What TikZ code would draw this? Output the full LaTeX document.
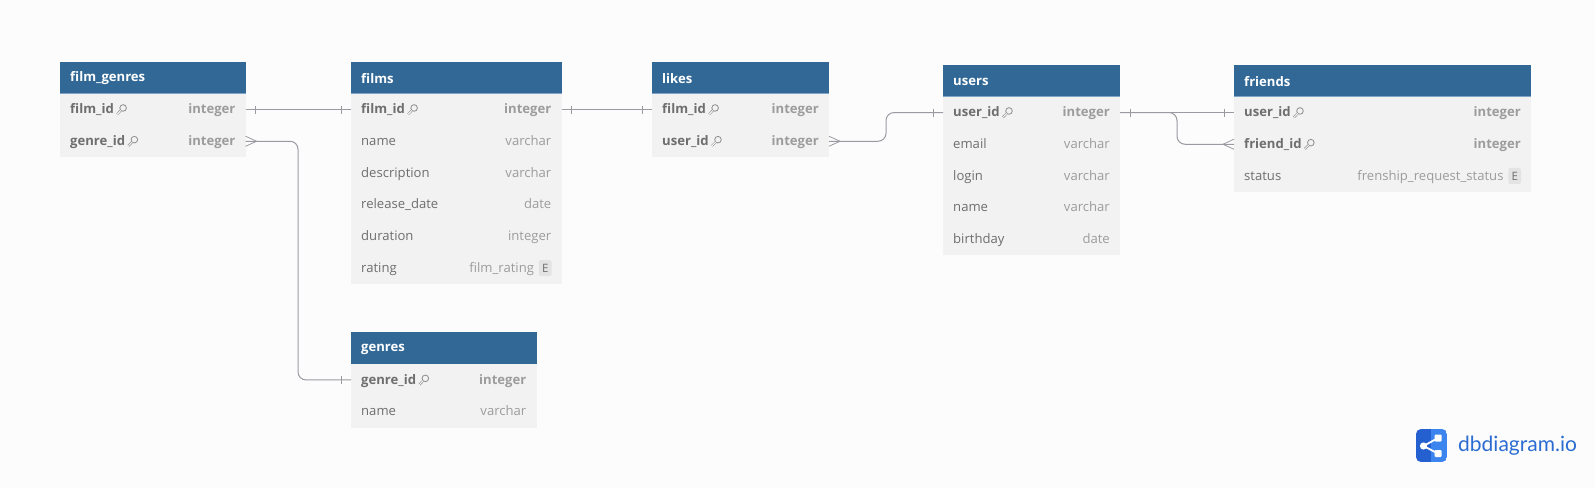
\documentclass[tikz,border=0pt]{standalone}
\usepackage{fontspec}
\setmainfont{Open Sans}
\newfontfamily\logofont{Lato}
\usetikzlibrary{decorations.markings}

\definecolor{pagebg}{HTML}{FCFCFC}
\definecolor{headblue}{HTML}{316896}
\definecolor{headline}{HTML}{7FA3C4}
\definecolor{rowgray}{HTML}{F2F2F2}
\definecolor{namegray}{HTML}{6E6E6E}
\definecolor{typegray}{HTML}{9C9C9C}
\definecolor{linegray}{HTML}{9A9AA2}
\definecolor{logodark}{HTML}{2460CF}
\definecolor{logolight}{HTML}{3C85EE}
\definecolor{logotext}{HTML}{2C6CD2}

\tikzset{
  headbox/.style={draw=none, fill=headblue, anchor=north west, minimum height=31.7pt, inner sep=0pt, outer sep=0pt},
  rowbox/.style={draw=none, fill=rowgray, anchor=north west, minimum height=31.7pt, inner sep=0pt, outer sep=0pt},
  headtext/.style={anchor=west, text=white, inner sep=0pt, font=\fontsize{13.1}{15}\selectfont\bfseries},
  nametext/.style={anchor=west, text=namegray, inner sep=0pt, text height=10pt, text depth=3pt, font=\fontsize{13.1}{15}\selectfont},
  typetext/.style={anchor=east, text=typegray, inner sep=0pt, text height=10pt, text depth=3pt, font=\fontsize{13.1}{15}\selectfont},
  keyname/.style={nametext, font=\fontsize{13.1}{15}\selectfont\bfseries},
  keytype/.style={typetext, font=\fontsize{13.1}{15}\selectfont\bfseries},
  enumbox/.style={anchor=east, fill=black!11, text=namegray, rounded corners=1.5pt, minimum width=12.6pt, minimum height=16pt, inner sep=0pt, font=\fontsize{11.5}{13}\selectfont},
  markline/.style={linegray, line width=0.8pt, sharp corners},
  conn/.style={draw=linegray, line width=1pt, rounded corners=8pt, postaction={decorate}},
  oneboth/.style={decoration={markings,
    mark=at position 10pt with {\draw[markline] (0,-4) -- (0,4);},
    mark=at position -10pt with {\draw[markline] (0,-4) -- (0,4);}}},
  manystartoneend/.style={decoration={markings,
    mark=at position 0pt with {\draw[markline] (0,-5) -- (11,0) -- (0,5);},
    mark=at position -10pt with {\draw[markline] (0,-4) -- (0,4);}}},
  onestartmanyend/.style={decoration={markings,
    mark=at position 10pt with {\draw[markline] (0,-4) -- (0,4);},
    mark=at position -0.1pt with {\draw[markline] (0,-5) -- (-11,0) -- (0,5);}}},
  keyicon/.pic={
    \draw[typegray!90!black, line width=0.8pt] (2.1,-1.7) circle (3.3);
    \draw[typegray!90!black, line width=0.6pt, double=pagebg, double distance=1pt] (-0.1,0.7) -- (-3.9,4.6);
  },
}

% table head: id, left, top, width, title
\newcommand{\dbhead}[5]{
  \node[headbox, minimum width=#4pt] (#1) at (#2,#3) {};
  \draw[headline, line width=1pt] (#1.south west) -- (#1.south east);
  \node[headtext] (#1title) at ([xshift=10pt,yshift=-0.7pt]#1.west) {#5};
}
% key row: id, above, width, name, type
\newcommand{\dbkeyrow}[5]{
  \node[rowbox, minimum width=#3pt] (#1) at (#2.south west) {};
  \node[keyname] (#1name) at ([xshift=10pt,yshift=-0.6pt]#1.west) {#4};
  \pic (#1key) at ([xshift=7pt,yshift=0.5pt]#1name.east) {keyicon};
  \node[keytype] (#1type) at ([xshift=-10pt,yshift=-0.6pt]#1.east) {#5};
}
% plain row: id, above, width, name, type
\newcommand{\dbrow}[5]{
  \node[rowbox, minimum width=#3pt] (#1) at (#2.south west) {};
  \node[nametext] (#1name) at ([xshift=10pt,yshift=-0.6pt]#1.west) {#4};
  \node[typetext] (#1type) at ([xshift=-10pt,yshift=-0.6pt]#1.east) {#5};
}

\begin{document}
\begin{tikzpicture}[x=1pt, y=-1pt]

\fill[pagebg] (0,0) rectangle (1595,488);

% film_genres
\dbhead{fg}{60}{62}{185.6}{film\_genres}
\dbkeyrow{fgfilm}{fg}{185.6}{film\_id}{integer}
\dbkeyrow{fggenre}{fgfilm}{185.6}{genre\_id}{integer}

% films
\dbhead{fl}{351}{62}{210.5}{films}
\dbkeyrow{flid}{fl}{210.5}{film\_id}{integer}
\dbrow{flname}{flid}{210.5}{name}{varchar}
\dbrow{fldesc}{flname}{210.5}{description}{varchar}
\dbrow{flrel}{fldesc}{210.5}{release\_date}{date}
\dbrow{fldur}{flrel}{210.5}{duration}{integer}
\dbrow{flrat}{fldur}{210.5}{rating}{}
\node[enumbox] (flratE) at ([xshift=-9.8pt]flrat.east) {E};
\node[typetext] (flrattype) at ([xshift=-4.5pt,yshift=-0.6pt]flratE.west) {film\_rating};

% genres
\dbhead{gn}{351}{332.4}{185.5}{genres}
\dbkeyrow{gnid}{gn}{185.5}{genre\_id}{integer}
\dbrow{gnname}{gnid}{185.5}{name}{varchar}

% likes
\dbhead{lk}{652}{62}{177}{likes}
\dbkeyrow{lkfilm}{lk}{177}{film\_id}{integer}
\dbkeyrow{lkuser}{lkfilm}{177}{user\_id}{integer}

% users
\dbhead{us}{943}{65}{177}{users}
\dbkeyrow{usid}{us}{177}{user\_id}{integer}
\dbrow{usmail}{usid}{177}{email}{varchar}
\dbrow{uslogin}{usmail}{177}{login}{varchar}
\dbrow{usname}{uslogin}{177}{name}{varchar}
\dbrow{usbirth}{usname}{177}{birthday}{date}

% friends
\dbhead{fr}{1234}{65}{297}{friends}
\dbkeyrow{fruser}{fr}{297}{user\_id}{integer}
\dbkeyrow{frfriend}{fruser}{297}{friend\_id}{integer}
\dbrow{frstat}{frfriend}{297}{status}{}
\node[enumbox] (frstatE) at ([xshift=-9.8pt]frstat.east) {E};
\node[typetext] (frstattype) at ([xshift=-4.5pt,yshift=-0.6pt]frstatE.west) {frenship\_request\_status};

% refs
\draw[conn, oneboth] (fgfilm.east) -- (flid.west);
\coordinate (gnbend) at (298,0);
\draw[conn, manystartoneend] (fggenre.east) -- (fggenre.east -| gnbend) -- (gnid.west -| gnbend) -- (gnid.west);
\draw[conn, oneboth] (flid.east) -- (lkfilm.west);
\coordinate (usbend) at (886,0);
\draw[conn, manystartoneend] (lkuser.east) -- (lkuser.east -| usbend) -- (usid.west -| usbend) -- (usid.west);
\draw[conn, oneboth] (usid.east) -- (fruser.west);
\coordinate (frbend) at (1177,0);
\draw[conn, onestartmanyend] (usid.east) -- (usid.east -| frbend) -- (frfriend.west -| frbend) -- (frfriend.west);

% logo
\begin{scope}
\clip[rounded corners=5pt] (1416,429) rectangle (1447,462);
\fill[logodark] (1416,429) rectangle (1431,462);
\fill[logolight] (1431,429) rectangle (1447,462);
\end{scope}
\coordinate (logoA) at (1423.5,446);
\coordinate (logoB) at (1438,438);
\coordinate (logoC) at (1438,453.5);
\draw[white, line width=1.8pt] (logoB) -- (logoA) -- (logoC);
\fill[white] (logoA) circle (3.6);
\fill[white, rounded corners=1pt] (1434.5,434.5) rectangle (1441.5,441.5);
\fill[white, rounded corners=1pt] (1434.5,450) rectangle (1441.5,457);
\node[anchor=west, text=logotext, inner sep=0pt, font=\logofont\fontsize{21}{24}\selectfont] (logotitle) at (1458,446) {dbdiagram.io};

\end{tikzpicture}
\end{document}
